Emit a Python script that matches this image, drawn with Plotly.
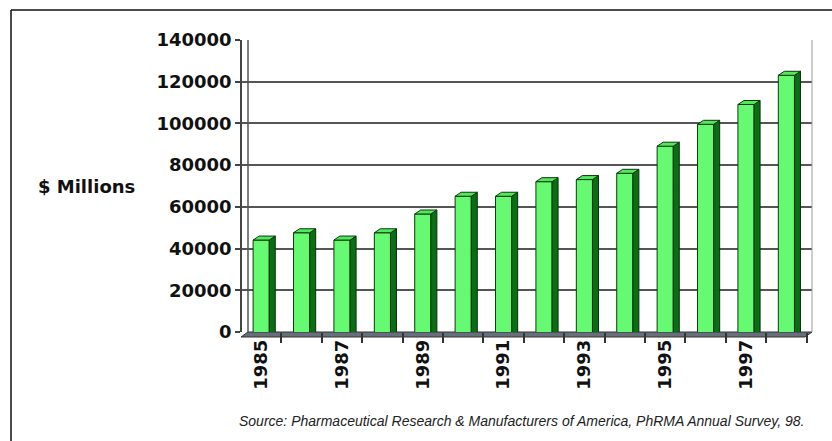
import plotly.graph_objects as go

# ---- data ----
years = list(range(1985, 1999))
sales = [46000, 49500, 46000, 49500, 58500, 67000, 67000, 74000, 75000, 78000,
         91000, 101500, 111000, 125000]
label_years = [1985, 1987, 1989, 1991, 1993, 1995, 1997]
y_ticks = [0, 20000, 40000, 60000, 80000, 100000, 120000, 140000]
y_title = "$ Millions"
source = "Source: Pharmaceutical Research & Manufacturers of America, PhRMA Annual Survey, 98."

# ---- geometry (pixels) ----
W, H = 832, 441
L, R, T, B = 242, 812, 40, 332          # plot domain in pixels
cat_px = 40.4                            # pixel width of one category
x0 = 1984.5 - (241 - L) / cat_px        # x value at left domain edge
x1 = x0 + (R - L) / cat_px
ymax = 140000
dy_px = 4
dy = dy_px * ymax / (B - T)              # 3D depth offset in data units
dx = 6 / cat_px
bw = 0.4


def px(x):
    return (x - L) / (R - L)


def py(y):
    return (B - y) / (B - T)


fig = go.Figure()

# invisible trace so the primary (gridline) axis is drawn
fig.add_trace(go.Scatter(x=years, y=sales, mode="markers", marker=dict(opacity=0),
                         hoverinfo="skip", yaxis="y"))

sx, sy = [], []
tx, ty = [], []
for c, v in zip(years, sales):
    r = c + bw / 2
    sx += [r, r + dx, r + dx, r, r, None]
    sy += [0, dy, v + dy, v, 0, None]
    tx += [c - bw / 2, c + bw / 2, c + bw / 2 + dx, c - bw / 2 + dx, c - bw / 2, None]
    ty += [v, v, v + dy, v + dy, v, None]

fig.add_trace(go.Bar(x=years, y=sales, width=bw, yaxis="y2", cliponaxis=False,
                     marker=dict(color="#66FA72", line=dict(color="#0c3a0c", width=1)),
                     hoverinfo="x+y"))
fig.add_trace(go.Scatter(x=sx, y=sy, yaxis="y2", mode="lines", fill="toself", cliponaxis=False,
                         fillcolor="#0A6E14", line=dict(color="#0a300a", width=1),
                         hoverinfo="skip"))
fig.add_trace(go.Scatter(x=tx, y=ty, yaxis="y2", mode="lines", fill="toself", cliponaxis=False,
                         fillcolor="#52E85C", line=dict(color="#0c3a0c", width=1),
                         hoverinfo="skip"))

shapes = []
# floor
shapes.append(dict(type="path", xref="paper", yref="paper", layer="between",
                   path=f"M {px(248)} {py(332)} L {px(812)} {py(332)} L {px(805)} {py(337)} L {px(241)} {py(337)} Z",
                   fillcolor="#66707A", line=dict(color="#333", width=1)))
# back wall left edge and right edge
shapes.append(dict(type="line", xref="paper", yref="paper", x0=px(248), x1=px(248),
                   y0=py(332), y1=py(40), line=dict(color="#555", width=1.5)))
shapes.append(dict(type="line", xref="paper", yref="paper", x0=px(812), x1=px(812),
                   y0=py(332), y1=py(40), line=dict(color="#999", width=1)))
# outer frame (top and left)
shapes.append(dict(type="line", xref="paper", yref="paper", x0=px(11), x1=px(832),
                   y0=py(10), y1=py(10), line=dict(color="#111", width=1.5)))
shapes.append(dict(type="line", xref="paper", yref="paper", x0=px(11), x1=px(11),
                   y0=py(10), y1=py(441), line=dict(color="#111", width=1.5)))

fig.update_layout(
    width=W, height=H,
    margin=dict(l=L, r=W - R, t=T, b=H - B, pad=0),
    paper_bgcolor="white", plot_bgcolor="white",
    showlegend=False,
    font=dict(family="DejaVu Sans", color="#111"),
    xaxis=dict(range=[x0, x1], showgrid=False, zeroline=False, showline=False,
               tickmode="array", tickvals=label_years, ticktext=[str(y) for y in label_years],
               ticks="", tickangle=-90, ticklabelstandoff=3,
               tickfont=dict(family="DejaVu Sans", size=18, weight="bold", color="#111"),
               minor=dict(ticks="outside", tick0=1984.5, dtick=1, ticklen=10,
                          tickwidth=1.5, tickcolor="#333", showgrid=False)),
    yaxis=dict(range=[0, ymax], tickmode="array", tickvals=y_ticks,
               ticktext=[str(v) for v in y_ticks],
               showgrid=True, gridcolor="#555", gridwidth=1.5, zeroline=False,
               showline=True, linecolor="#444", linewidth=1.5,
               ticks="outside", ticklen=5, tickwidth=1.5, tickcolor="#444",
               tickfont=dict(family="DejaVu Sans", size=18, weight="bold", color="#111")),
    yaxis2=dict(range=[dy, ymax + dy], overlaying="y", visible=False),
    shapes=shapes,
    annotations=[
        dict(text=y_title, xref="paper", yref="paper", x=px(86), y=py(186),
             xanchor="center", yanchor="middle",
             showarrow=False, font=dict(family="DejaVu Sans", size=18, weight="bold", color="#111")),
        dict(text="<i>" + source + "</i>", xref="paper", yref="paper", x=px(521), y=py(421),
             xanchor="center", yanchor="middle",
             showarrow=False, font=dict(family="Liberation Sans", size=14, color="#222")),
    ],
)

fig.write_html("out.html")
